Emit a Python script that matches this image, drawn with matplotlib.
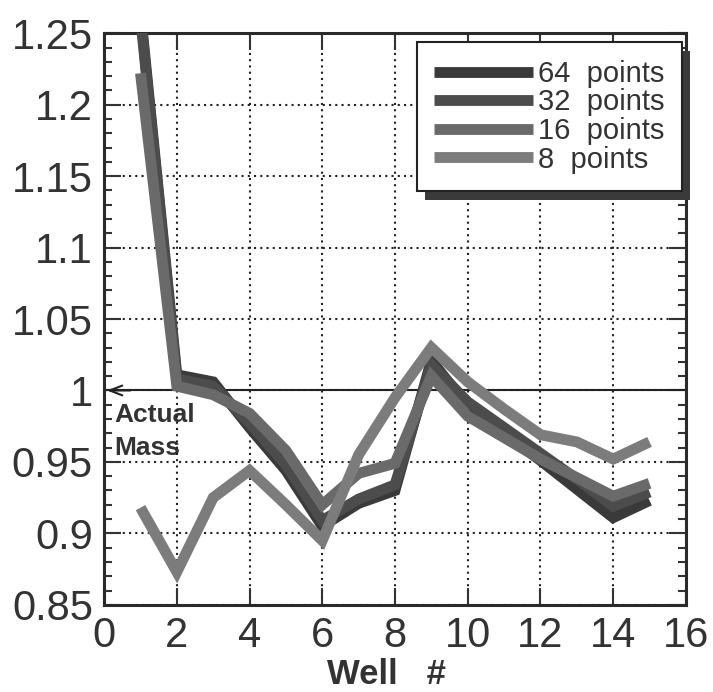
import matplotlib
matplotlib.use("Agg")
import matplotlib.pyplot as plt
from matplotlib.patches import Rectangle
from matplotlib.ticker import MultipleLocator, FormatStrFormatter

plt.rcParams['font.family'] = ['Liberation Sans', 'DejaVu Sans']

# data
wells = [1, 2, 3, 4, 5, 6, 7, 8, 9, 10, 11, 12, 13, 14, 15]
pts64 = [1.265, 1.011, 1.006, 0.974, 0.944, 0.905, 0.921, 0.930, 1.021, 0.989, 0.970, 0.951, 0.931, 0.911, 0.923]
pts32 = [1.262, 1.008, 1.003, 0.977, 0.948, 0.909, 0.924, 0.934, 1.018, 0.992, 0.974, 0.956, 0.938, 0.919, 0.929]
pts16 = [1.222, 1.003, 0.997, 0.984, 0.958, 0.920, 0.942, 0.949, 1.010, 0.982, 0.967, 0.952, 0.939, 0.926, 0.935]
pts8 = [0.918, 0.873, 0.925, 0.944, 0.920, 0.895, 0.955, 0.995, 1.030, 1.006, 0.987, 0.969, 0.964, 0.952, 0.964]
labels = ['64  points', '32  points', '16  points', '8  points']
colors = ['#3a3a3a', '#4c4c4c', '#6a6a6a', '#7c7c7c']

fig = plt.figure(figsize=(7.13, 6.92), dpi=100)
ax = fig.add_axes([0.146, 0.126, 0.816, 0.826])

for ys, lab, c in zip([pts64, pts32, pts16, pts8], labels, colors):
    ax.plot(wells, ys, color=c, lw=7.8, label=lab,
            solid_joinstyle='miter', solid_capstyle='butt', zorder=3)

# actual mass reference line with arrow
ax.axhline(1.0, color='#222222', lw=1.5, zorder=2)
ax.annotate('', xy=(0.0, 1.0), xytext=(0.8, 1.0),
            arrowprops=dict(arrowstyle='->,head_length=0.9,head_width=0.35',
                            color='#222222', lw=1.5), zorder=2)
ax.text(0.27, 0.983, 'Actual', fontsize=19, fontweight='bold',
        color='#333333', va='center', ha='left', zorder=1)
ax.text(0.27, 0.960, 'Mass', fontsize=19, fontweight='bold',
        color='#333333', va='center', ha='left', zorder=1)

ax.set_xlim(0, 16)
ax.set_ylim(0.85, 1.25)
ax.xaxis.set_major_locator(MultipleLocator(2))
ax.yaxis.set_major_locator(MultipleLocator(0.05))
ax.yaxis.set_minor_locator(MultipleLocator(0.01))
ax.yaxis.set_major_formatter(FormatStrFormatter('%g'))

ax.tick_params(which='both', direction='in', top=True, right=True,
               colors='#333333', width=1.5)
ax.tick_params(which='major', length=12, labelsize=30, pad=8)
ax.tick_params(which='minor', length=6)
ax.grid(True, which='major', color='#222222', linestyle=(0, (1, 2)), lw=1.5)

for s in ax.spines.values():
    s.set_linewidth(2.2)
    s.set_color('#2a2a2a')

ax.set_xlabel('Well   #', fontsize=25, fontweight='bold', color='#333333')
ax.xaxis.set_label_coords(0.485, -0.093)

leg = ax.legend(loc='upper right', bbox_to_anchor=(0.993, 0.984),
                borderaxespad=0, fontsize=21, handlelength=3.4,
                handletextpad=0.15, labelspacing=0.02, borderpad=0.6,
                fancybox=False, framealpha=1, edgecolor='#222222')
leg.get_frame().set_linewidth(1.5)
for t in leg.get_texts():
    t.set_color('#333333')
leg.set_zorder(6)

# drop shadow behind the legend box
fig.canvas.draw()
bb = leg.get_window_extent().transformed(fig.transFigure.inverted())
dx, dy = 8 / 713, 9 / 692
ax.add_patch(Rectangle((bb.x0 + dx, bb.y0 - dy), bb.width, bb.height,
                       transform=fig.transFigure, facecolor='#3a3a3a',
                       edgecolor='none', clip_on=False, zorder=5))

fig.savefig('out.png', dpi=100)
